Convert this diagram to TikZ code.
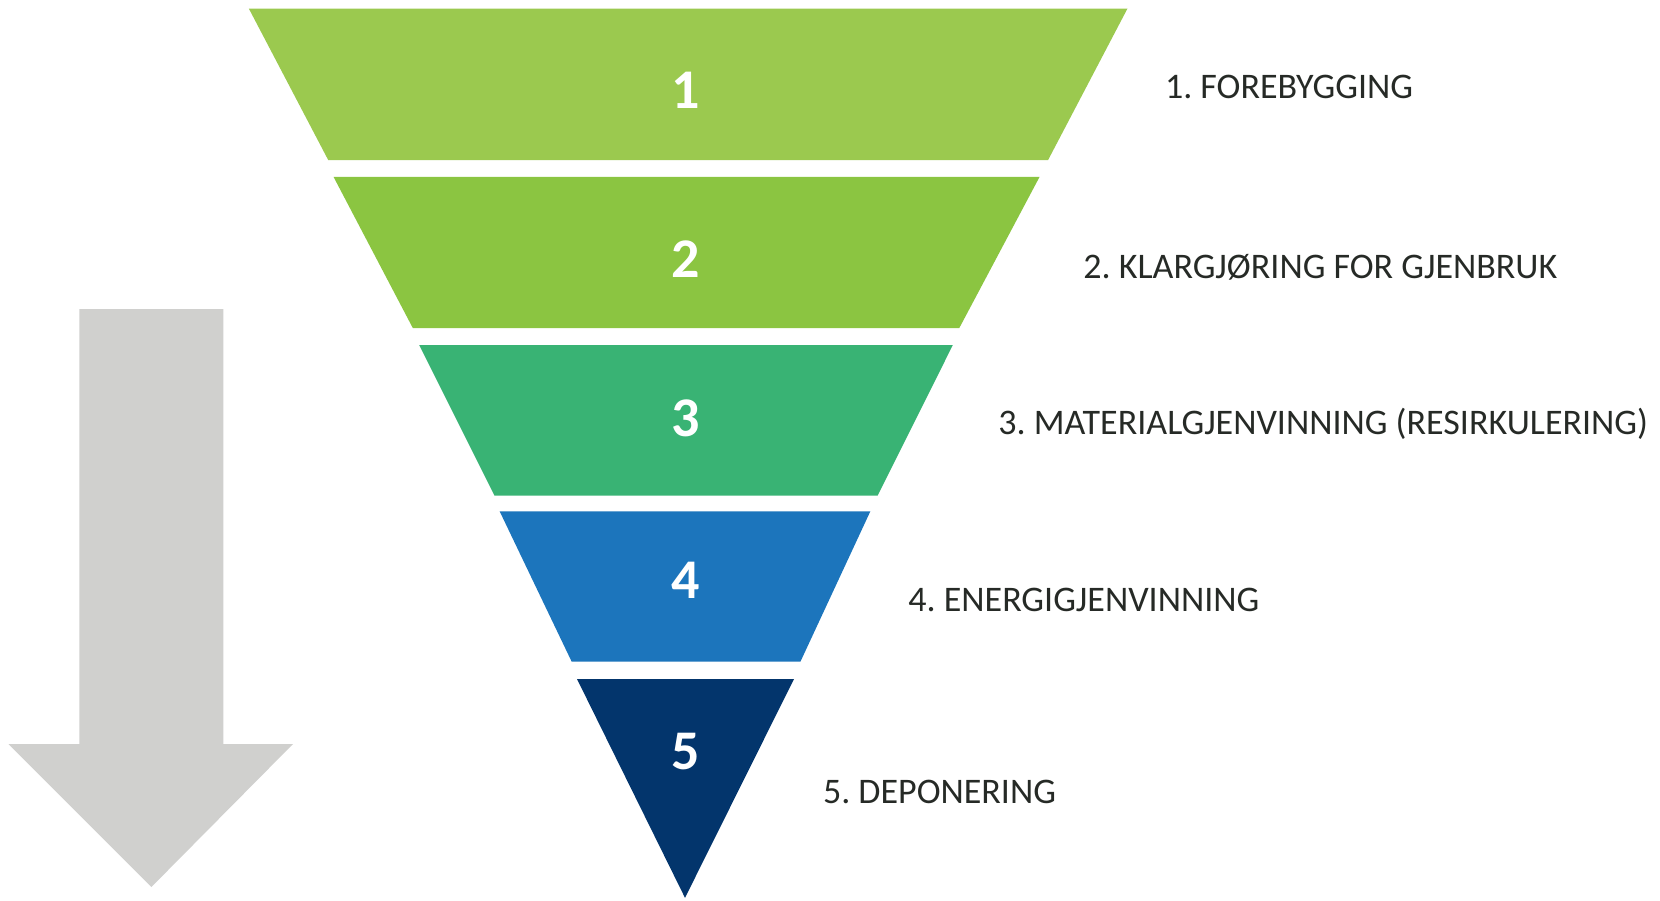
\documentclass[tikz,border=0pt]{standalone}
\usepackage{fontspec}
\setmainfont{Carlito}
\usepackage{xcolor}
\usepackage{tikz}
\frenchspacing
\definecolor{lvl1}{HTML}{9BC94F}
\definecolor{lvl2}{HTML}{8BC541}
\definecolor{lvl3}{HTML}{39B374}
\definecolor{lvl4}{HTML}{1C75BC}
\definecolor{lvl5}{HTML}{03356C}
\definecolor{arrowgrey}{HTML}{D0D0CE}
\definecolor{labeltext}{HTML}{262A26}
\tikzstyle{digit} = [inner sep=0pt, text=white, font=\fontsize{28pt}{30pt}\selectfont\bfseries]
\tikzstyle{level} = [anchor=base west, inner sep=0pt, text=labeltext, font=\fontsize{18pt}{20pt}\selectfont]

\begin{document}
\begin{tikzpicture}[x=0.5pt, y=-0.5pt]
		\useasboundingbox (0,0) rectangle (1660,900);
		% arrow
		\fill[arrowgrey] (79.4,309) -- (223.4,309) -- (223.4,744) -- (293,744) -- (151.4,887) -- (8.5,744) -- (79.4,744) -- cycle;
		% pyramid
		\fill[lvl1] (248.8,8.5) -- (1127.5,8.5) -- (1048.1,160) -- (328.2,160) -- cycle;
		\fill[lvl2] (333.5,176.8) -- (1039.6,176.8) -- (959.2,328.2) -- (412.9,328.2) -- cycle;
		\fill[lvl3] (419.2,345.1) -- (952.8,345.1) -- (877.7,495.5) -- (494.4,495.5) -- cycle;
		\fill[lvl4] (499.7,511.4) -- (870.3,511.4) -- (800.4,661.7) -- (571.7,661.7) -- cycle;
		\fill[lvl5] (577,679) -- (794,679) -- (685,897.8) -- cycle;
		\node (Step 1)[digit] at (686,90) {1};
		\node (Step 2)[digit] at (686,259) {2};
		\node (Step 3)[digit] at (686,418) {3};
		\node (Step 4)[digit] at (686,580) {4};
		\node (Step 5)[digit] at (686,752) {5};
		% labels
		\node (Forebygging)[level] at (1164.6,98.5) {1. FOREBYGGING};
		\node (Gjenbruk)[level] at (1083,278.5) {2. KLARGJØRING FOR GJENBRUK};
		\node (Materialgjenvinning)[level] at (998,434) {3. MATERIALGJENVINNING (RESIRKULERING)};
		\node (Energigjenvinning)[level] at (908,611.7) {4. ENERGIGJENVINNING};
		\node (Deponering)[level] at (822.6,803.7) {5. DEPONERING};
	\end{tikzpicture}
\end{document}
